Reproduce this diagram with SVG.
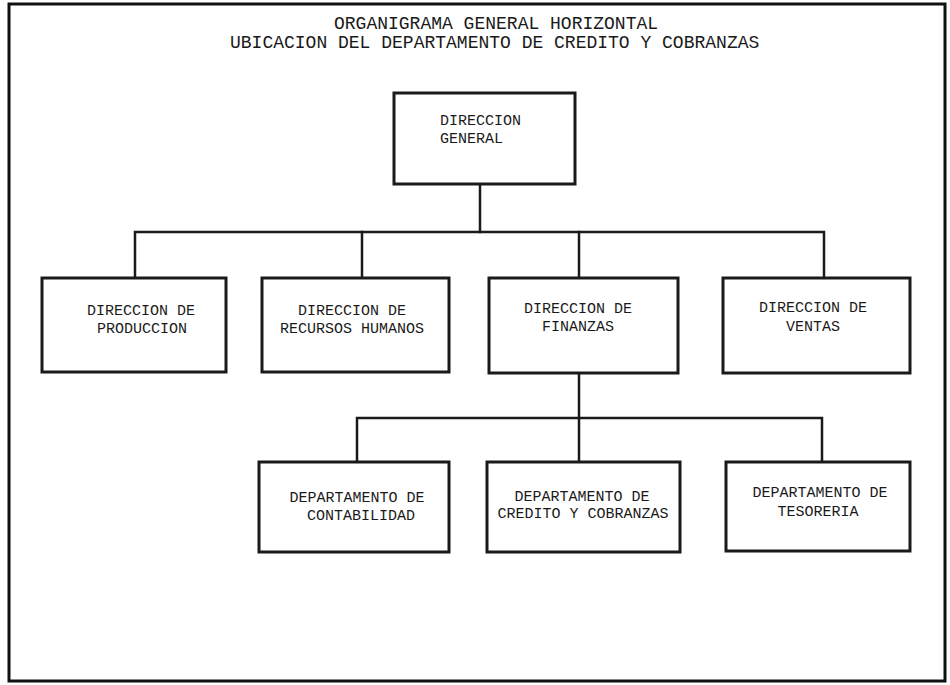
<svg xmlns="http://www.w3.org/2000/svg" width="950" height="685" viewBox="0 0 950 685">
<style>
.bg{fill:#ffffff}
.frame{fill:none;stroke:#111;stroke-width:3}
.box{fill:#ffffff;stroke:#1a1a1a;stroke-width:3}
.conn{fill:none;stroke:#1a1a1a;stroke-width:2.5;stroke-linecap:square}
.title{font-family:"Liberation Mono","DejaVu Sans Mono",monospace;font-size:18px;fill:#1a1a1a}
.lbl{font-family:"Liberation Mono","DejaVu Sans Mono",monospace;font-size:15px;fill:#1a1a1a;text-anchor:middle}
.lbl-l{font-family:"Liberation Mono","DejaVu Sans Mono",monospace;font-size:15px;fill:#1a1a1a}
</style>
<rect class="bg" x="0" y="0" width="950" height="685"/>
<rect class="frame" x="9" y="4" width="936" height="677"/>
<g id="title">
<text class="title" x="334" y="29">ORGANIGRAMA GENERAL HORIZONTAL</text>
<text class="title" x="230" y="48">UBICACION DEL DEPARTAMENTO DE CREDITO Y COBRANZAS</text>
</g>
<g id="connectors">
<path class="conn" d="M480 184 V232"/>
<path class="conn" d="M135 278 V232 H824 V278"/>
<path class="conn" d="M362 232 V278"/>
<path class="conn" d="M579 232 V278"/>
<path class="conn" d="M579 373 V462"/>
<path class="conn" d="M357 462 V418 H822 V462"/>
</g>
<g id="direccion-general">
<rect class="box" x="394" y="93" width="181" height="91"/>
<text class="lbl-l" x="440" y="125">DIRECCION</text>
<text class="lbl-l" x="440" y="143">GENERAL</text>
</g>
<g id="direccion-produccion">
<rect class="box" x="42" y="278" width="184" height="94"/>
<text class="lbl" x="141" y="315">DIRECCION DE</text>
<text class="lbl" x="142" y="333">PRODUCCION</text>
</g>
<g id="direccion-rrhh">
<rect class="box" x="262" y="278" width="187" height="94"/>
<text class="lbl" x="352" y="315">DIRECCION DE</text>
<text class="lbl" x="352" y="333">RECURSOS HUMANOS</text>
</g>
<g id="direccion-finanzas">
<rect class="box" x="489" y="278" width="189" height="95"/>
<text class="lbl" x="578" y="313">DIRECCION DE</text>
<text class="lbl" x="578" y="331">FINANZAS</text>
</g>
<g id="direccion-ventas">
<rect class="box" x="723" y="278" width="187" height="95"/>
<text class="lbl" x="813" y="312">DIRECCION DE</text>
<text class="lbl" x="813" y="331">VENTAS</text>
</g>
<g id="depto-contabilidad">
<rect class="box" x="259" y="462" width="190" height="90"/>
<text class="lbl" x="357" y="502">DEPARTAMENTO DE</text>
<text class="lbl" x="361" y="520">CONTABILIDAD</text>
</g>
<g id="depto-credito">
<rect class="box" x="487" y="462" width="193" height="90"/>
<text class="lbl" x="582" y="501">DEPARTAMENTO DE</text>
<text class="lbl" x="583" y="518">CREDITO Y COBRANZAS</text>
</g>
<g id="depto-tesoreria">
<rect class="box" x="726" y="462" width="184" height="89"/>
<text class="lbl" x="820" y="497">DEPARTAMENTO DE</text>
<text class="lbl" x="818" y="516">TESORERIA</text>
</g>
</svg>
